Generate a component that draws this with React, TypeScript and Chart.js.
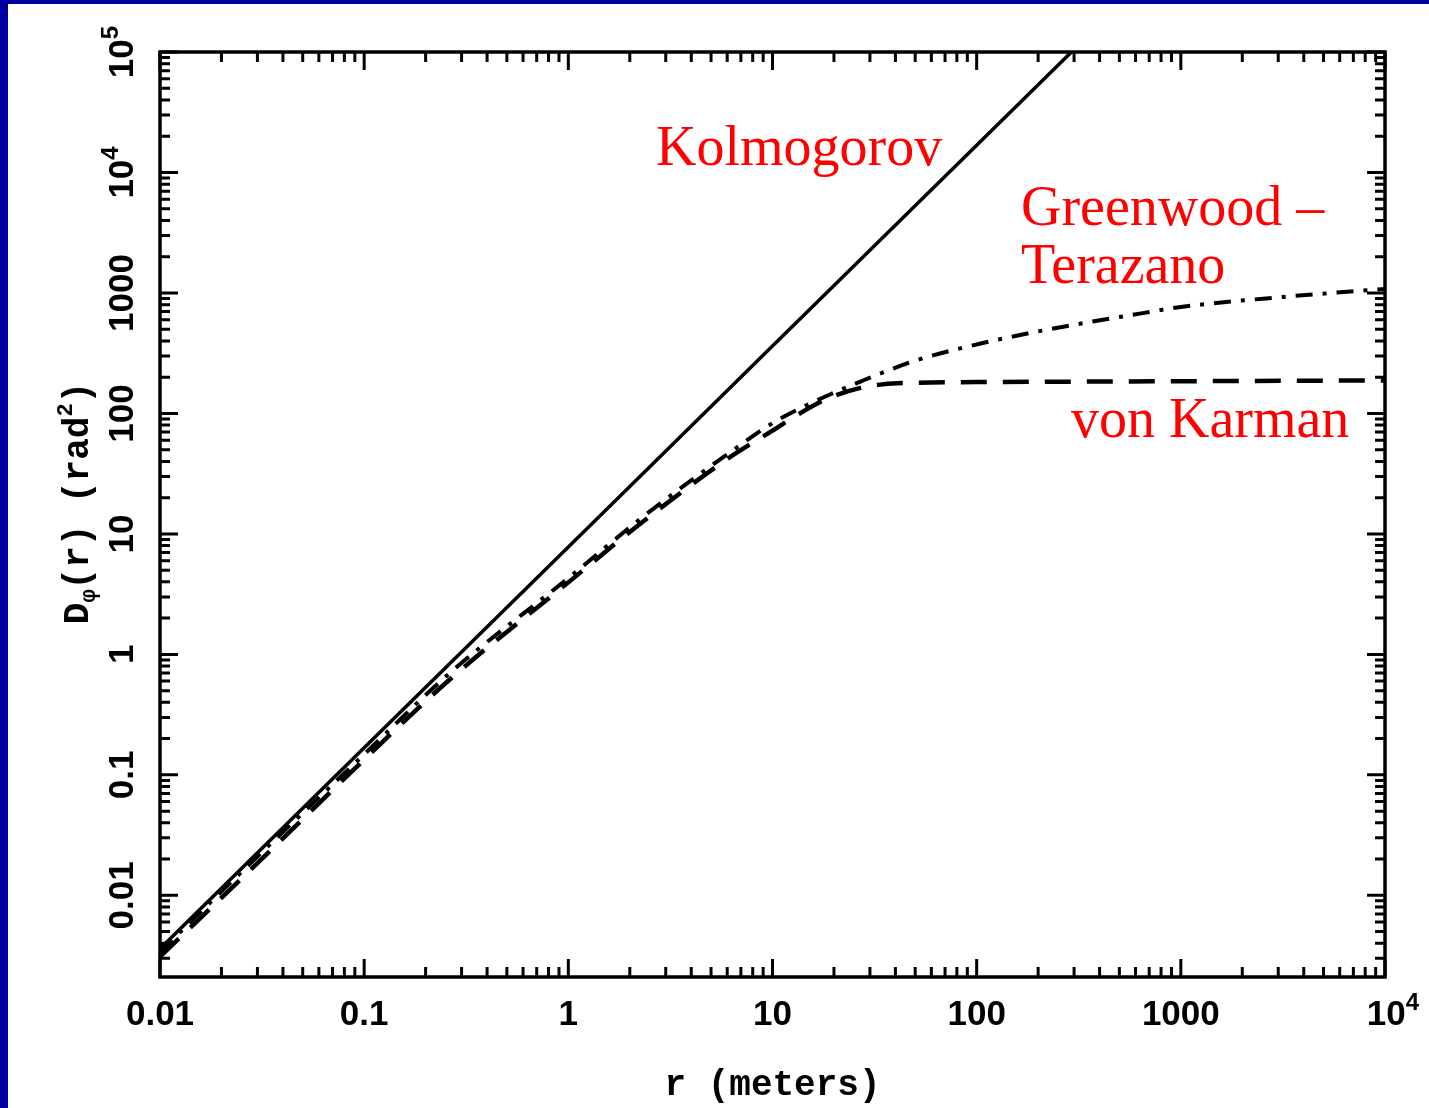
import React, { useEffect, useRef } from 'react';
import { Chart, registerables } from 'chart.js';

Chart.register(...registerables);

// ---- data ----
const kolmogorovR = [0.01, 0.1, 1, 10, 100, 300];
const kolmogorovD = [0.0036, 0.168, 7.8, 362, 16800, 105000];

const greenwoodR = [0.01, 0.03, 0.1, 0.26, 1, 2.3, 6.4, 10, 13.6, 19, 27, 35, 51, 107, 228, 650, 1000, 3000, 10000];
const greenwoodD = [0.0034, 0.021, 0.148, 0.69, 4.3, 13.7, 49.5, 83, 110, 143, 184, 220, 277, 384, 500, 680, 765, 920, 1080];

const vonKarmanR = [0.01, 0.03, 0.1, 0.26, 1, 2.3, 6.4, 10, 13.6, 19, 27, 35, 51, 100, 1000, 10000];
const vonKarmanD = [0.0031, 0.0185, 0.134, 0.61, 3.96, 12.5, 45, 72, 100, 135, 163, 175, 180, 182, 185, 188];

const xTickValues = [0.01, 0.1, 1, 10, 100, 1000, 10000];
const xTickLabels = ['0.01', '0.1', '1', '10', '100', '1000', '10^4'];
const yTickValues = [0.01, 0.1, 1, 10, 100, 1000, 10000, 100000];
const yTickLabels = ['0.01', '0.1', '1', '10', '100', '1000', '10^4', '10^5'];

const xMin = 0.01;
const xMax = 10000;
const yMin = 0.0021;
const yMax = 100000;

const xTitle = 'r (meters)';
const curveNames = ['Kolmogorov', 'Greenwood –', 'Terazano', 'von Karman'];

const LABEL_FONT = 'bold 35px "Liberation Sans", Arial, sans-serif';
const SUP_FONT = 'bold 24px "Liberation Sans", Arial, sans-serif';
const TITLE_FONT = 'bold 36px "Liberation Mono", "Courier New", monospace';
const TITLE_SMALL = 'bold 22px "Liberation Mono", "Courier New", monospace';
const RED_FONT = '56px "Liberation Serif", "Times New Roman", serif';

type Part = { t: string; font: string; dy: number };

function partsOf(label: string): Part[] {
  const idx = label.indexOf('^');
  if (idx < 0) return [{ t: label, font: LABEL_FONT, dy: 0 }];
  return [
    { t: label.slice(0, idx), font: LABEL_FONT, dy: 0 },
    { t: label.slice(idx + 1), font: SUP_FONT, dy: -15 },
  ];
}

function drawParts(ctx: CanvasRenderingContext2D, parts: Part[], cx: number, baseY: number) {
  let total = 0;
  const widths: number[] = [];
  for (const p of parts) {
    ctx.font = p.font;
    const w = ctx.measureText(p.t).width;
    widths.push(w);
    total += w;
  }
  let x = cx - total / 2;
  ctx.textAlign = 'left';
  ctx.textBaseline = 'alphabetic';
  parts.forEach((p, i) => {
    ctx.font = p.font;
    ctx.fillText(p.t, x, baseY + p.dy);
    x += widths[i];
  });
}

const framePlugin = {
  id: 'framePlugin',
  beforeDraw(chart: any) {
    const { ctx, width, height } = chart;
    ctx.save();
    ctx.fillStyle = '#ffffff';
    ctx.fillRect(0, 0, width, height);
    ctx.fillStyle = '#0000a0';
    ctx.fillRect(0, 0, 8, height);
    ctx.fillRect(0, 0, width, 4);
    ctx.restore();
  },
  afterDatasetsDraw(chart: any) {
    const { ctx, chartArea: ca, scales } = chart;
    const xs = scales.x;
    const ys = scales.y;
    ctx.save();
    ctx.strokeStyle = '#000';
    ctx.lineWidth = 3.5;
    ctx.strokeRect(ca.left, ca.top, ca.right - ca.left, ca.bottom - ca.top);

    const major = 18;
    const minor = 10;
    ctx.lineWidth = 3;
    ctx.beginPath();
    for (let e = -3; e <= 5; e++) {
      for (let m = 1; m <= 9; m++) {
        const v = m * Math.pow(10, e);
        const len = m === 1 ? major : minor;
        if (v >= xMin * 0.999 && v <= xMax * 1.001) {
          const px = xs.getPixelForValue(v);
          ctx.moveTo(px, ca.bottom);
          ctx.lineTo(px, ca.bottom - len);
          ctx.moveTo(px, ca.top);
          ctx.lineTo(px, ca.top + len);
        }
        if (v >= yMin * 0.999 && v <= yMax * 1.001) {
          const py = ys.getPixelForValue(v);
          ctx.moveTo(ca.left, py);
          ctx.lineTo(ca.left + len, py);
          ctx.moveTo(ca.right, py);
          ctx.lineTo(ca.right - len, py);
        }
      }
    }
    ctx.stroke();
    ctx.restore();
  },
  afterDraw(chart: any) {
    const { ctx, chartArea: ca, scales } = chart;
    const xs = scales.x;
    const ys = scales.y;
    ctx.save();
    ctx.fillStyle = '#000';

    // x tick labels
    xTickValues.forEach((v, i) => {
      const px = xs.getPixelForValue(v);
      drawParts(ctx, partsOf(xTickLabels[i]), px + (i === xTickValues.length - 1 ? 8 : 0), ca.bottom + 48);
    });

    // y tick labels (rotated)
    yTickValues.forEach((v, i) => {
      const py = ys.getPixelForValue(v);
      ctx.save();
      ctx.translate(ca.left - 27, py);
      ctx.rotate(-Math.PI / 2);
      drawParts(ctx, partsOf(yTickLabels[i]), 0, 0);
      ctx.restore();
    });

    // x title
    ctx.font = TITLE_FONT;
    ctx.textAlign = 'center';
    ctx.textBaseline = 'alphabetic';
    ctx.fillText(xTitle, (ca.left + ca.right) / 2, 1095);

    // y title: D_phi(r) (rad^2)
    const yParts: Part[] = [
      { t: 'D', font: TITLE_FONT, dy: 0 },
      { t: 'φ', font: TITLE_SMALL, dy: 7 },
      { t: '(r) (rad', font: TITLE_FONT, dy: 0 },
      { t: '2', font: TITLE_SMALL, dy: -16 },
      { t: ')', font: TITLE_FONT, dy: 0 },
    ];
    ctx.save();
    ctx.translate(88, 503);
    ctx.rotate(-Math.PI / 2);
    drawParts(ctx, yParts, 0, 0);
    ctx.restore();

    // curve annotations
    ctx.fillStyle = '#ff0000';
    ctx.font = RED_FONT;
    ctx.textAlign = 'left';
    ctx.fillText(curveNames[0], 656, 165);
    ctx.fillText(curveNames[1], 1021, 225);
    ctx.fillText(curveNames[2], 1021, 283);
    ctx.fillText(curveNames[3], 1071, 437);
    ctx.restore();
  },
};

function toPoints(rs: number[], ds: number[]) {
  return rs.map((r, i) => ({ x: r, y: ds[i] }));
}

export default function App() {
  const ref = useRef<HTMLCanvasElement | null>(null);
  useEffect(() => {
    if (!ref.current) return;
    const chart = new Chart(ref.current, {
      type: 'line',
      data: {
        datasets: [
          {
            label: 'Kolmogorov',
            data: toPoints(kolmogorovR, kolmogorovD),
            borderColor: '#000',
            borderWidth: 3.5,
            pointRadius: 0,
            tension: 0,
          },
          {
            label: 'von Karman',
            data: toPoints(vonKarmanR, vonKarmanD),
            borderColor: '#000',
            borderWidth: 4.5,
            borderDash: [26, 16],
            pointRadius: 0,
            cubicInterpolationMode: 'monotone',
          },
          {
            label: 'Greenwood – Terazano',
            data: toPoints(greenwoodR, greenwoodD),
            borderColor: '#000',
            borderWidth: 4,
            borderDash: [17, 10, 4, 10],
            pointRadius: 0,
            cubicInterpolationMode: 'monotone',
          },
        ],
      },
      options: {
        animation: false,
        responsive: false,
        layout: { padding: { top: 52, right: 44, left: 0, bottom: 0 } },
        plugins: { legend: { display: false }, tooltip: { enabled: false } },
        scales: {
          x: {
            type: 'logarithmic',
            min: xMin,
            max: xMax,
            grid: { display: false },
            border: { display: false },
            ticks: { display: false },
            afterFit: (s: any) => {
              s.height = 131;
            },
          },
          y: {
            type: 'logarithmic',
            min: yMin,
            max: yMax,
            grid: { display: false },
            border: { display: false },
            ticks: { display: false },
            afterFit: (s: any) => {
              s.width = 160;
            },
          },
        },
      } as any,
      plugins: [framePlugin],
    });
    return () => chart.destroy();
  }, []);

  return (
    <div style={{ position: 'absolute', left: 0, top: 0, width: 1429, height: 1108 }}>
      <canvas ref={ref} width={1429} height={1108} style={{ display: 'block', width: 1429, height: 1108 }} />
    </div>
  );
}
